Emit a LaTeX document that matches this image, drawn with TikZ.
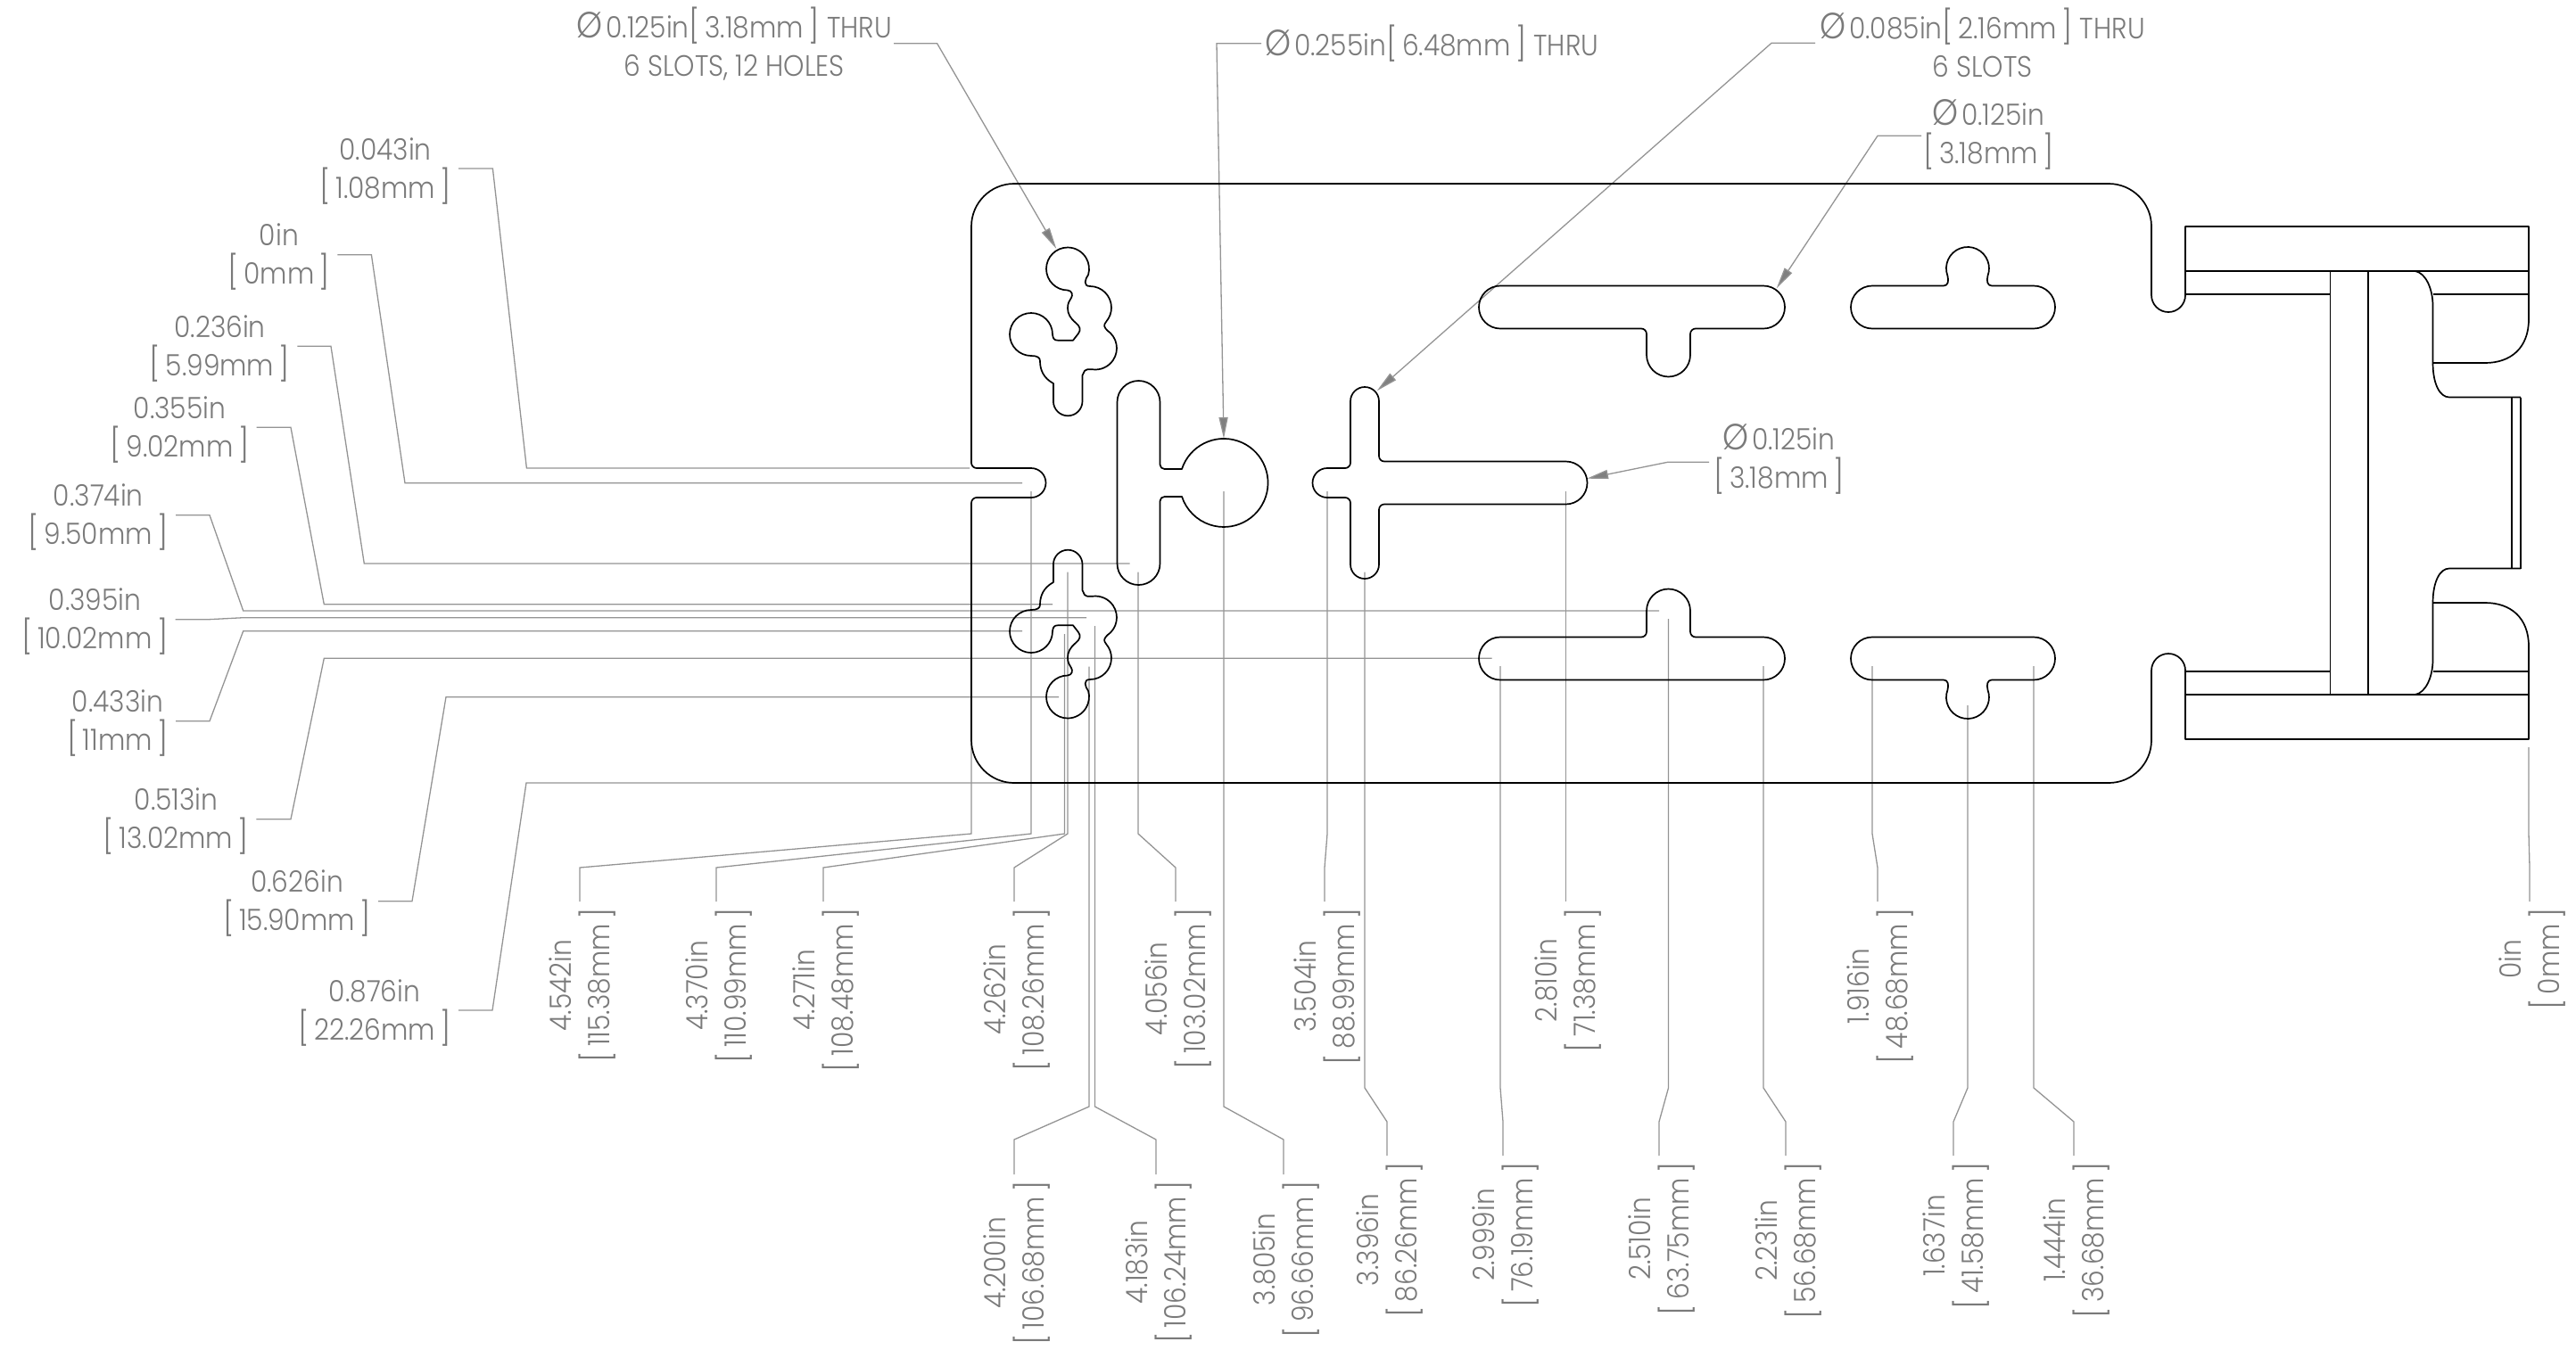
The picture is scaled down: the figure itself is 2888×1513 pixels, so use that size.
\documentclass[tikz,border=0pt]{standalone}
\usepackage{fontspec}
\usetikzlibrary{arrows.meta}
\newfontfamily\dimfont{Poppins Light}[FakeStretch=0.9,Numbers=Monospaced]
\newcommand{\bracketed}[1]{{\fontsize{37}{43}\selectfont[}\hspace{.17em}#1\hspace{.17em}{\fontsize{37}{43}\selectfont]}}
\newcommand{\dimpair}[2]{\rule{0pt}{30pt}#1\\\bracketed{#2}}
\newcommand{\dia}{{\fontsize{41}{43}\selectfont Ø}\hspace{.12em}}
\tikzset{
  part/.style={draw=black, line width=1.7pt, line join=round},
  leader/.style={draw=black!42, line width=1.3pt},
  dimlabel/.style={align=center, text=black!52, inner xsep=8pt, inner ysep=0pt,
    font=\dimfont\fontsize{33}{43}\selectfont},
  dimdown/.style={dimlabel, rotate=90, anchor=east, inner xsep=7pt},
  dimleft/.style={dimlabel, anchor=east},
}
% parts that repeat about the middle line of the plate
\newcommand{\halfparts}[1]{
  \begin{scope}[#1]
    % hole cluster
    \draw[part] (1197,325.5) arc[start angle=90,end angle=376,radius=24]
      .. controls (1216.5,313) and (1214,321) .. (1222,321)
      arc[start angle=270,end angle=400,radius=24]
      .. controls (1236.5,365) and (1238,367) .. (1241.4,370.6)
      arc[start angle=304,end angle=457,radius=24]
      -- (1219,414.3) .. controls (1216,414.3) and (1216,416) .. (1213.5,421)
      -- (1213.5,450) arc[start angle=0,end angle=180,radius=16.3]
      -- (1180.9,430) .. controls (1170,424) and (1166,415) .. (1166,405)
      .. controls (1166,401) and (1163,399) .. (1156,399)
      arc[start angle=90,end angle=360,radius=24]
      .. controls (1180.5,380) and (1182,381.7) .. (1186,381.7)
      -- (1203,381.7) -- (1209,374) .. controls (1212,370) and (1211,366) .. (1206,362)
      .. controls (1200,357) and (1197,352) .. (1197,345.5)
      .. controls (1197,340) and (1199,337) .. (1201,334)
      .. controls (1203,331) and (1202,326) .. (1197,325.5) -- cycle;
    % long slot with tab
    \draw[part] (1682,320.5) -- (1977,320.5) arc[start angle=270,end angle=450,radius=24]
      -- (1901,368.5) arc[start angle=270,end angle=180,radius=6]
      -- (1895,398) arc[start angle=0,end angle=180,radius=24.5]
      -- (1846,374.5) arc[start angle=0,end angle=-90,radius=6]
      -- (1682,368.5) arc[start angle=90,end angle=270,radius=24] -- cycle;
    % short slot with tab
    \draw[part] (2099,320.5) -- (2179,320.5) .. controls (2184,320.5) and (2185,315) .. (2183.4,309.2)
      arc[start angle=160,end angle=380,radius=24]
      .. controls (2227,315) and (2228,320.5) .. (2233,320.5)
      -- (2280,320.5) arc[start angle=270,end angle=450,radius=24]
      -- (2099,368.5) arc[start angle=90,end angle=270,radius=24] -- cycle;
    % side clamp
    \draw[part] (2450,331) -- (2450,254) -- (2835,254) -- (2835,358)
      .. controls (2835,390) and (2815,407) .. (2786,407) -- (2727.5,407);
    \draw[part] (2450,304) -- (2835,304);
    \draw[part] (2450,330) -- (2612.5,330);
    \draw[part] (2727.5,330) -- (2835,330);
    \draw[part] (2707.5,304) .. controls (2720,306) and (2727.5,325) .. (2727.5,343)
      -- (2727.5,407) .. controls (2727.5,430) and (2735,445.5) .. (2746,445.5) -- (2826,445.5);
  \end{scope}
}
\begin{document}
\begin{tikzpicture}[x=1pt,y=-1pt,>={Triangle[length=24pt,width=10pt,fill=black!50]}]
  \useasboundingbox (0,0) rectangle (2888,1513);
  % labels on the left
  \node[dimleft] (d043) at (514,189) {\dimpair{0.043in}{1.08mm}};
  \node[dimleft] (d000) at (378.4,285.7) {\dimpair{0in}{0mm}};
  \node[dimleft] (d236) at (333.3,388.3) {\dimpair{0.236in}{5.99mm}};
  \node[dimleft] (d355) at (287.5,479.3) {\dimpair{0.355in}{9.02mm}};
  \node[dimleft] (d374) at (197,577.7) {\dimpair{0.374in}{9.50mm}};
  \node[dimleft] (d395) at (196.7,694.7) {\dimpair{0.395in}{10.02mm}};
  \node[dimleft] (d433) at (197,808.7) {\dimpair{0.433in}{11mm}};
  \node[dimleft] (d513) at (287.3,918.7) {\dimpair{0.513in}{13.02mm}};
  \node[dimleft] (d626) at (424,1010.7) {\dimpair{0.626in}{15.90mm}};
  \node[dimleft] (d876) at (514,1133) {\dimpair{0.876in}{22.26mm}};
  \draw[leader] (d043.east) -- (552.4,189) -- (590.4,525) -- (1087,525);
  \draw[leader] (d000.east) -- (416.4,285.7) -- (454,541.7) -- (1146,541.7);
  \draw[leader] (d236.east) -- (371,388.3) -- (408.3,632) -- (1266.7,632);
  \draw[leader] (d355.east) -- (326,479.3) -- (363.3,677.7) -- (1180,677.7);
  \draw[leader] (d374.east) -- (235,577.7) -- (272.7,685) -- (1860,685);
  \draw[leader] (d395.east) -- (234,694.7) -- (272.7,692.7) -- (1218,692.7);
  \draw[leader] (d433.east) -- (235,808.7) -- (272.7,707.7) -- (1146,707.7);
  \draw[leader] (d513.east) -- (326,918.7) -- (363.3,738.3) -- (1672.7,738.3);
  \draw[leader] (d626.east) -- (462,1010.7) -- (500,781.7) -- (1187,781.7);
  \draw[leader] (d876.east) -- (552,1133) -- (590,878) -- (1137,878);
  % labels below
  \node[dimdown] (b4542) at (650,1011) {\dimpair{4.542in}{115.38mm}};
  \node[dimdown] (b4370) at (803,1011) {\dimpair{4.370in}{110.99mm}};
  \node[dimdown] (b4271) at (923,1011) {\dimpair{4.271in}{108.48mm}};
  \node[dimdown] (b4262) at (1137,1011) {\dimpair{4.262in}{108.26mm}};
  \node[dimdown] (b4056) at (1318,1011) {\dimpair{4.056in}{103.02mm}};
  \node[dimdown] (b3504) at (1485,1011) {\dimpair{3.504in}{88.99mm}};
  \node[dimdown] (b2810) at (1755.5,1011) {\dimpair{2.810in}{71.38mm}};
  \node[dimdown] (b1916) at (2105,1011) {\dimpair{1.916in}{48.68mm}};
  \node[dimdown] (b0000) at (2836,1011) {\dimpair{0in}{0mm}};
  \node[dimdown] (b4200) at (1137,1317) {\dimpair{4.200in}{106.68mm}};
  \node[dimdown] (b4183) at (1296,1317) {\dimpair{4.183in}{106.24mm}};
  \node[dimdown] (b3805) at (1439,1317) {\dimpair{3.805in}{96.66mm}};
  \node[dimdown] (b3396) at (1555,1296) {\dimpair{3.396in}{86.26mm}};
  \node[dimdown] (b2999) at (1685,1296) {\dimpair{2.999in}{76.19mm}};
  \node[dimdown] (b2510) at (1860,1296) {\dimpair{2.510in}{63.75mm}};
  \node[dimdown] (b2231) at (2002,1296) {\dimpair{2.231in}{56.68mm}};
  \node[dimdown] (b1637) at (2190,1296) {\dimpair{1.637in}{41.58mm}};
  \node[dimdown] (b1444) at (2325,1296) {\dimpair{1.444in}{36.68mm}};
  \draw[leader] (1089,830) -- (1089,935) -- (650,973) -- (b4542.east);
  \draw[leader] (1156,551) -- (1156,935) -- (803,973) -- (b4370.east);
  \draw[leader] (1193.5,711) -- (1193.5,935) -- (923,973) -- (b4271.east);
  \draw[leader] (1197,641.7) -- (1197,935) -- (1137,973) -- (b4262.east);
  \draw[leader] (1276,641.7) -- (1276,935) -- (1318,973) -- (b4056.east);
  \draw[leader] (1488,551) -- (1488,935) -- (1485,973) -- (b3504.east);
  \draw[leader] (1755.5,551) -- (b2810.east);
  \draw[leader] (2099,747) -- (2099,935) -- (2105,973) -- (b1916.east);
  \draw[leader] (2835,838) -- (2835,935) -- (2836,973) -- (b0000.east);
  \draw[leader] (1221,747.7) -- (1221,1241) -- (1137,1278) -- (b4200.east);
  \draw[leader] (1227.5,702) -- (1227.5,1241) -- (1296,1278) -- (b4183.east);
  \draw[leader] (1372,551) -- (1372,1241) -- (1439,1278) -- (b3805.east);
  \draw[leader] (1530,641.7) -- (1530,1220) -- (1555,1258) -- (b3396.east);
  \draw[leader] (1682,747) -- (1682,1220) -- (1685,1258) -- (b2999.east);
  \draw[leader] (1870.5,694) -- (1870.5,1220) -- (1860,1258) -- (b2510.east);
  \draw[leader] (1977,747) -- (1977,1220) -- (2002,1258) -- (b2231.east);
  \draw[leader] (2206,791) -- (2206,1220) -- (2190,1258) -- (b1637.east);
  \draw[leader] (2280,747) -- (2280,1220) -- (2325,1258) -- (b1444.east);
  % callouts with arrows
  \node[dimlabel, anchor=east, inner xsep=2pt] (holes) at (1002,48.7) {\dia0.125in\bracketed{3.18mm} THRU\\6 SLOTS, 12 HOLES};
  \node[dimlabel, anchor=west, inner xsep=4pt] (bore) at (1414,48.7) {\dia0.255in\bracketed{6.48mm} THRU};
  \node[dimlabel, anchor=west, inner xsep=5pt] (thin) at (2035,48.3) {\dia0.085in\bracketed{2.16mm} THRU\\6 SLOTS};
  \node[dimlabel, anchor=west, inner xsep=2pt] (upper) at (2154,152.3) {\dia0.125in\\\bracketed{3.18mm}\rule[-10pt]{0pt}{1pt}};
  \node[dimlabel, anchor=west, inner xsep=5pt] (inner) at (1916,518.3) {\dia0.125in\\\bracketed{3.18mm}\rule[-14pt]{0pt}{1pt}};
  \draw[leader,->] (holes.east) -- (1050.6,48.7) -- (1184.3,279);
  \draw[leader,->] (bore.west) -- (1364,48.7) -- (1372,492);
  \draw[leader,->] (thin.west) -- (1986,48.3) -- (1543.7,438.3);
  \draw[leader,->] (upper.west) -- (2105,152.3) -- (1991.7,323.3);
  \draw[leader,->] (inner.west) -- (1869.6,518.3) -- (1779,536.7);
  % plate
  \draw[part] (1137,206) -- (2364,206) arc[start angle=270,end angle=360,radius=48]
    -- (2412,331) arc[start angle=180,end angle=0,radius=19];
  \draw[part] (2450,752) arc[start angle=360,end angle=180,radius=19]
    -- (2412,830) arc[start angle=0,end angle=90,radius=48]
    -- (1137,878) arc[start angle=90,end angle=180,radius=48]
    -- (1089,564) arc[start angle=180,end angle=270,radius=6]
    -- (1156,558) arc[start angle=90,end angle=-90,radius=16.5]
    -- (1095,525) arc[start angle=90,end angle=180,radius=6]
    -- (1089,254) arc[start angle=180,end angle=270,radius=48];
  % slot with round bore
  \draw[part] (1252.5,451) arc[start angle=180,end angle=360,radius=24]
    -- (1300.5,521) arc[start angle=180,end angle=90,radius=5]
    -- (1325,526) arc[start angle=198.2,end angle=521.8,radius=49.5]
    -- (1305.5,557) arc[start angle=270,end angle=180,radius=5]
    -- (1300.5,632) arc[start angle=0,end angle=180,radius=24] -- cycle;
  % cross slot
  \draw[part] (1514,450) arc[start angle=180,end angle=360,radius=16]
    -- (1546,511.5) arc[start angle=180,end angle=90,radius=6]
    -- (1755.5,517.5) arc[start angle=270,end angle=450,radius=24]
    -- (1552,565.5) arc[start angle=270,end angle=180,radius=6]
    -- (1546,633) arc[start angle=0,end angle=180,radius=16]
    -- (1514,564) arc[start angle=0,end angle=-90,radius=6]
    -- (1488,558) arc[start angle=90,end angle=270,radius=16.5]
    -- (1508,525) arc[start angle=90,end angle=0,radius=6] -- cycle;
  \halfparts{}
  \halfparts{shift={(0,1083)},yscale=-1}
  % clamp middle
  \draw[part] (2612.5,304) -- (2612.5,779);
  \draw[part] (2655,304) -- (2655,779);
  \draw[part] (2816,445.5) -- (2816,637.5);
  \draw[part] (2826,445.5) -- (2826,637.5);
\end{tikzpicture}
\end{document}
